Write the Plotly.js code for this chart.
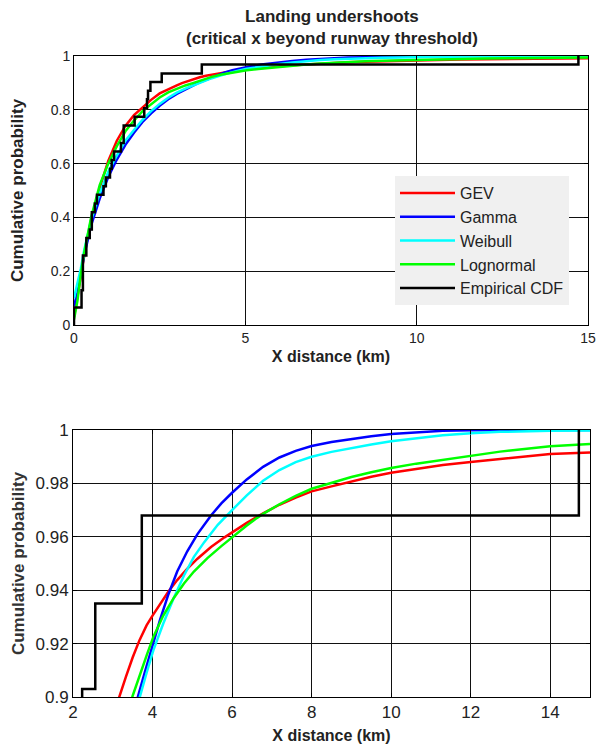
<!DOCTYPE html>
<html>
<head>
<meta charset="utf-8">
<script src="https://cdn.plot.ly/plotly-3.0.1.min.js"></script>
<style>html,body{margin:0;padding:0;background:#fff;}#chart{width:601px;height:747px;}</style>
</head>
<body>
<div id="chart"></div>
<script>
// Empirical CDF (step points)
const ecdf_x = [0, 0, 0.22, 0.26, 0.36, 0.46, 0.52, 0.61, 0.67, 0.86, 0.93, 1.05, 1.10, 1.17, 1.37, 1.45, 1.77, 2.05, 2.13, 2.16, 2.23, 2.56, 3.73, 14.72];
const ecdf_y = [0, 0.065, 0.129, 0.258, 0.323, 0.355, 0.419, 0.452, 0.484, 0.516, 0.548, 0.581, 0.613, 0.645, 0.677, 0.742, 0.774, 0.806, 0.839, 0.871, 0.903, 0.935, 0.968, 1.0];

// GEV fit
const gev_x = [0, 0.1, 0.2, 0.3, 0.5, 0.75, 1.0, 1.25, 1.5, 1.75, 2.0, 2.25, 2.5, 2.75, 3.0, 3.15, 3.33, 3.5, 3.67, 3.85, 4.0, 4.2, 4.4, 4.62, 4.87, 5.13, 5.47, 5.81, 6.0, 6.37, 6.78, 7.19, 7.6, 8.0, 8.5, 9.0, 9.5, 10, 10.63, 11.3, 12, 12.74, 13.41, 14, 15];
const gev_y = [0.03, 0.10, 0.18, 0.26, 0.39, 0.51, 0.61, 0.685, 0.74, 0.78, 0.81, 0.837, 0.861, 0.877, 0.8912, 0.8994, 0.9075, 0.9148, 0.9212, 0.9268, 0.9305, 0.9352, 0.9395, 0.9438, 0.948, 0.9518, 0.9562, 0.9598, 0.9617, 0.9652, 0.9688, 0.972, 0.9747, 0.977, 0.9789, 0.9808, 0.9825, 0.984, 0.9855, 0.9869, 0.988, 0.9891, 0.9902, 0.991, 0.9916];

// Gamma fit
const gam_x = [0, 0.1, 0.2, 0.3, 0.5, 0.75, 1.0, 1.25, 1.5, 1.75, 2.0, 2.25, 2.5, 2.75, 3.0, 3.25, 3.5, 3.63, 3.8, 3.97, 4.19, 4.4, 4.62, 4.87, 5.13, 5.47, 5.73, 6.0, 6.37, 6.78, 7.19, 7.6, 8.0, 8.5, 9.0, 9.5, 10, 10.63, 11.3, 12, 13, 15];
const gam_y = [0.07, 0.12, 0.19, 0.26, 0.37, 0.47, 0.55, 0.615, 0.67, 0.715, 0.755, 0.787, 0.815, 0.839, 0.859, 0.876, 0.8915, 0.90, 0.909, 0.918, 0.929, 0.9385, 0.947, 0.9545, 0.961, 0.968, 0.9725, 0.9765, 0.9815, 0.9862, 0.9897, 0.9922, 0.994, 0.9955, 0.9967, 0.9977, 0.9985, 0.9992, 0.9997, 0.9999, 1.0, 1.0];

// Weibull fit
const wbl_x = [0, 0.1, 0.2, 0.3, 0.5, 0.75, 1.0, 1.25, 1.5, 1.75, 2.0, 2.25, 2.5, 2.75, 3.0, 3.25, 3.5, 3.68, 3.85, 4.02, 4.27, 4.53, 4.79, 5.04, 5.3, 5.64, 6.0, 6.37, 6.78, 7.19, 7.6, 8.0, 8.5, 9.0, 9.5, 10, 10.63, 11.3, 12, 12.74, 14, 15];
const wbl_y = [0.10, 0.15, 0.21, 0.28, 0.39, 0.49, 0.57, 0.63, 0.685, 0.725, 0.763, 0.795, 0.822, 0.845, 0.864, 0.879, 0.892, 0.90, 0.909, 0.9175, 0.9275, 0.937, 0.9455, 0.9525, 0.958, 0.9645, 0.970, 0.9755, 0.981, 0.985, 0.988, 0.990, 0.9918, 0.9933, 0.9946, 0.9958, 0.997, 0.998, 0.9988, 0.9993, 0.9997, 0.9998];

// Lognormal fit
const logn_x = [0, 0.1, 0.2, 0.3, 0.5, 0.75, 1.0, 1.25, 1.5, 1.75, 2.0, 2.25, 2.5, 2.75, 3.0, 3.25, 3.49, 3.68, 3.85, 4.02, 4.27, 4.53, 4.79, 5.04, 5.38, 5.73, 6.0, 6.37, 6.62, 6.78, 7.19, 7.6, 8.0, 8.5, 9.0, 9.5, 10, 10.63, 11.3, 12, 12.74, 13.41, 14, 15];
const logn_y = [0.02, 0.09, 0.19, 0.27, 0.40, 0.52, 0.60, 0.665, 0.72, 0.76, 0.795, 0.822, 0.846, 0.865, 0.879, 0.8905, 0.90, 0.9085, 0.9155, 0.9225, 0.9305, 0.937, 0.9425, 0.947, 0.952, 0.9565, 0.9598, 0.9642, 0.967, 0.9686, 0.9722, 0.9753, 0.978, 0.9803, 0.9824, 0.9842, 0.9858, 0.9874, 0.9889, 0.9905, 0.9919, 0.993, 0.9939, 0.9948];

const title_lines = ['Landing undershoots', '(critical x beyond runway threshold)'];

const series = [
  {name: 'GEV', x: gev_x, y: gev_y, color: '#ff0000'},
  {name: 'Gamma', x: gam_x, y: gam_y, color: '#0000ff'},
  {name: 'Weibull', x: wbl_x, y: wbl_y, color: '#00ffff'},
  {name: 'Lognormal', x: logn_x, y: logn_y, color: '#00ff00'}
];

const FONT = 'Liberation Sans, Arial, sans-serif';
const traces = [];
['x', 'x2'].forEach((xa, k) => {
  const ya = k === 0 ? 'y' : 'y2';
  series.forEach(s => {
    traces.push({
      type: 'scatter', mode: 'lines', x: s.x, y: s.y, name: s.name,
      xaxis: xa, yaxis: ya, legendgroup: s.name, showlegend: k === 0,
      line: {color: s.color, width: 2.5}
    });
  });
  traces.push({
    type: 'scatter', mode: 'lines', x: ecdf_x, y: ecdf_y, name: 'Empirical CDF',
    xaxis: xa, yaxis: ya, legendgroup: 'ecdf', showlegend: k === 0,
    line: {color: '#000000', width: 2.5, shape: 'hv'}
  });
});

const axBase = {
  showline: true, linecolor: '#000', linewidth: 1, mirror: 'allticks',
  ticks: 'inside', ticklen: 4, tickcolor: '#000',
  showgrid: true, gridcolor: '#111', gridwidth: 1, zeroline: false,
  automargin: false, fixedrange: true
};

const layout = {
  width: 601, height: 747,
  paper_bgcolor: '#fff', plot_bgcolor: '#fff',
  margin: {l: 0, r: 0, t: 0, b: 0},
  font: {family: FONT, color: '#222'},
  annotations: [{
    text: title_lines.map(t => '<b>' + t + '</b>').join('<br>'),
    xref: 'paper', yref: 'paper', x: 332 / 601, y: 1 - 5 / 747,
    xanchor: 'center', yanchor: 'top', showarrow: false, align: 'center',
    font: {family: FONT, size: 17, color: '#222'}
  }],
  showlegend: true,
  legend: {
    x: 395 / 601, xanchor: 'left', y: 1 - 176 / 747, yanchor: 'top',
    bgcolor: '#f0f0f0', borderwidth: 0,
    font: {family: FONT, size: 16, color: '#222'},
    itemwidth: 55, tracegroupgap: 0, traceorder: 'grouped'
  },
  xaxis: Object.assign({}, axBase, {
    domain: [74 / 601, 588 / 601], anchor: 'y', range: [0, 15], tickvals: [0, 5, 10, 15],
    tickfont: {size: 14, color: '#222'},
    title: {text: '<b>X distance (km)</b>', font: {size: 16, color: '#222'}, standoff: 6}
  }),
  yaxis: Object.assign({}, axBase, {
    domain: [1 - 325 / 747, 1 - 56 / 747], anchor: 'x', range: [0, 1], tickvals: [0, 0.2, 0.4, 0.6, 0.8, 1],
    tickfont: {size: 14, color: '#222'},
    title: {text: '<b>Cumulative probability</b>', font: {size: 17, color: '#222'}, standoff: 22}
  }),
  xaxis2: Object.assign({}, axBase, {
    domain: [73 / 601, 590 / 601], anchor: 'y2', range: [2, 15], tickvals: [2, 4, 6, 8, 10, 12, 14],
    tickfont: {size: 17, color: '#222'},
    title: {text: '<b>X distance (km)</b>', font: {size: 16, color: '#222'}, standoff: 8}
  }),
  yaxis2: Object.assign({}, axBase, {
    domain: [1 - 697 / 747, 1 - 430 / 747], anchor: 'x2', range: [0.9, 1], tickvals: [0.9, 0.92, 0.94, 0.96, 0.98, 1],
    tickfont: {size: 17, color: '#222'},
    title: {text: '<b>Cumulative probability</b>', font: {size: 17, color: '#333'}, standoff: 6}
  })
};

Plotly.newPlot('chart', traces, layout, {staticPlot: true, displayModeBar: false});
</script>
</body>
</html>
